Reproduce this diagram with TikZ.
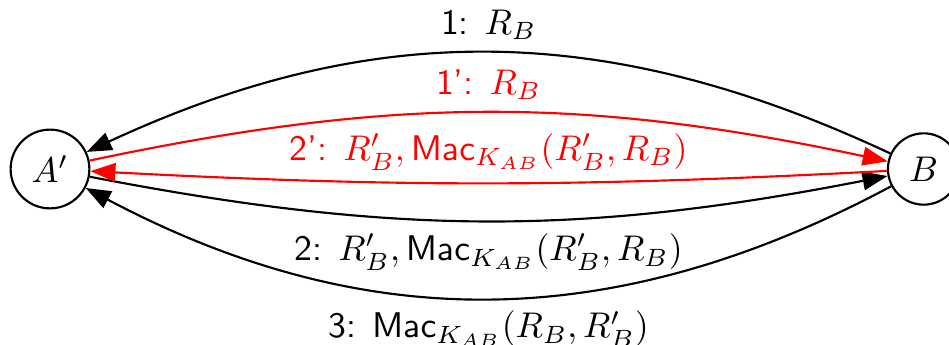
\documentclass[tikz,border=0pt]{standalone}
\usepackage{amsmath}
\usepackage{xcolor}
\usepackage{tikz}
\usetikzlibrary{positioning, arrows.meta}

\begin{document}
\begin{tikzpicture}[
        x=0.28pt, y=-0.28pt,
        party/.style={circle, draw=black, semithick},
        msg/.style={-{Triangle[length=7pt, width=5.2pt]}, semithick},
        replay/.style={msg, draw=red, text=red},
        lbl/.style={font=\sffamily, midway}
    ]
        \useasboundingbox (0,0) rectangle (949,345);
        \node[party] (a) at (50,169) {$A'$};
        \node[party, right=223pt of a] (b) {$B$};
        % honest run
        \draw[msg] (b) to[bend right=25] node[lbl, above] {1: $R_B$} (a);
        \draw[msg] (a) to[bend right=11] node[lbl, below] {2: $R'_B, \mathsf{Mac}_{K_{AB}}(R'_B, R_B)$} (b);
        \draw[msg] (b) to[bend left=28] node[lbl, below] {3: $\mathsf{Mac}_{K_{AB}}(R_B, R'_B)$} (a);
        % reflected run
        \draw[replay] (a) to[bend left=12] node[lbl, above] {1': $R_B$} (b);
        \draw[replay] (b) to[bend left=3] node[lbl, above] {2': $R'_B, \mathsf{Mac}_{K_{AB}}(R'_B, R_B)$} (a);
    \end{tikzpicture}
\end{document}
